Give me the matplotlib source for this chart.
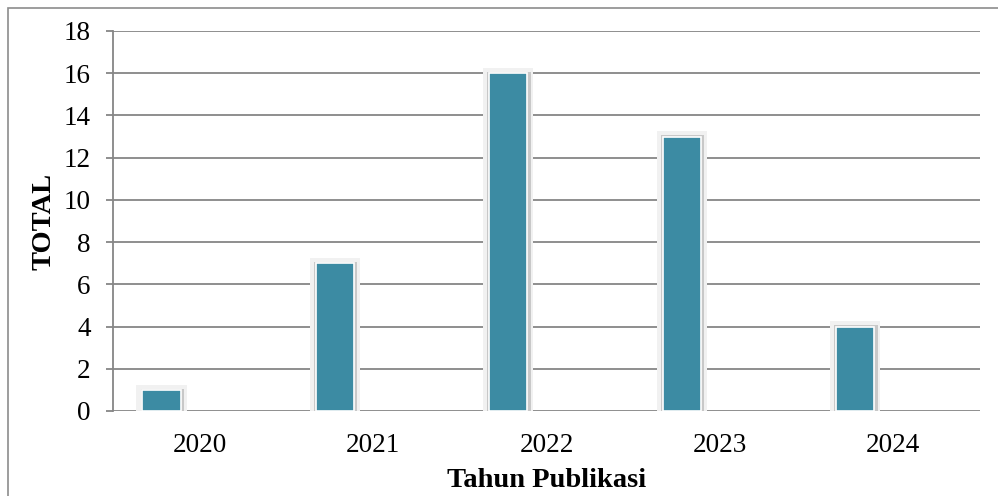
import numpy as np
import matplotlib.pyplot as plt
from matplotlib.patches import Rectangle

years = ['2020', '2021', '2022', '2023', '2024']
totals = [1, 7, 16, 13, 4]
y_ticks = [0, 2, 4, 6, 8, 10, 12, 14, 16, 18]

bar_color = '#3C8BA3'
grid_color = '#868686'


def main():
  plt.rcParams['font.family'] = ['Liberation Serif', 'DejaVu Serif']

  fig = plt.figure(figsize=(9.98, 4.96), dpi=100)
  ax = fig.add_axes([0.1132, 0.1714, 0.8688, 0.7661])

  # outer chart border (cut off at right / bottom like the original)
  fig.patches.append(Rectangle((8 / 998, -0.05), 1.2, 488 / 496 + 0.05,
                               transform=fig.transFigure, fill=False,
                               edgecolor='#8c8c8c', linewidth=1.2))

  x = np.arange(len(years))
  offset = -0.22
  width = 0.22

  # soft shadow behind the bars
  ax.bar(x + offset, np.array(totals) + 0.25, width + 0.07, color='#f1f1f1',
         zorder=2)
  ax.bar(x + offset + 0.004, np.array(totals) + 0.05, width + 0.03,
         color='#c8c8c8', zorder=3)
  ax.bar(x + offset, totals, width, color=bar_color, edgecolor='white',
         linewidth=1.2, zorder=4)

  ax.set_ylim(0, 18)
  ax.set_xlim(-0.5, len(years) - 0.5)
  ax.set_yticks(y_ticks)
  ax.set_xticks(x)
  ax.set_xticklabels(years)
  ax.yaxis.grid(True, color=grid_color, linewidth=1.3, zorder=1)
  ax.set_axisbelow(True)

  for s in ['top', 'right', 'bottom']:
    ax.spines[s].set_visible(False)
  ax.spines['left'].set_color(grid_color)
  ax.spines['left'].set_linewidth(1.3)

  ax.tick_params(axis='y', length=5, width=1.3, color=grid_color, pad=11,
                 labelsize=19.5)
  ax.tick_params(axis='x', length=0, pad=16, labelsize=19.5)

  ax.set_xlabel('Tahun Publikasi', fontsize=20.5, fontweight='bold',
                labelpad=7)
  ax.set_ylabel('TOTAL', fontsize=20.5, fontweight='bold')
  ax.yaxis.set_label_coords(-0.0646, 0.5)

  plt.savefig('out.png', dpi=100)


if __name__ == '__main__':
  main()
